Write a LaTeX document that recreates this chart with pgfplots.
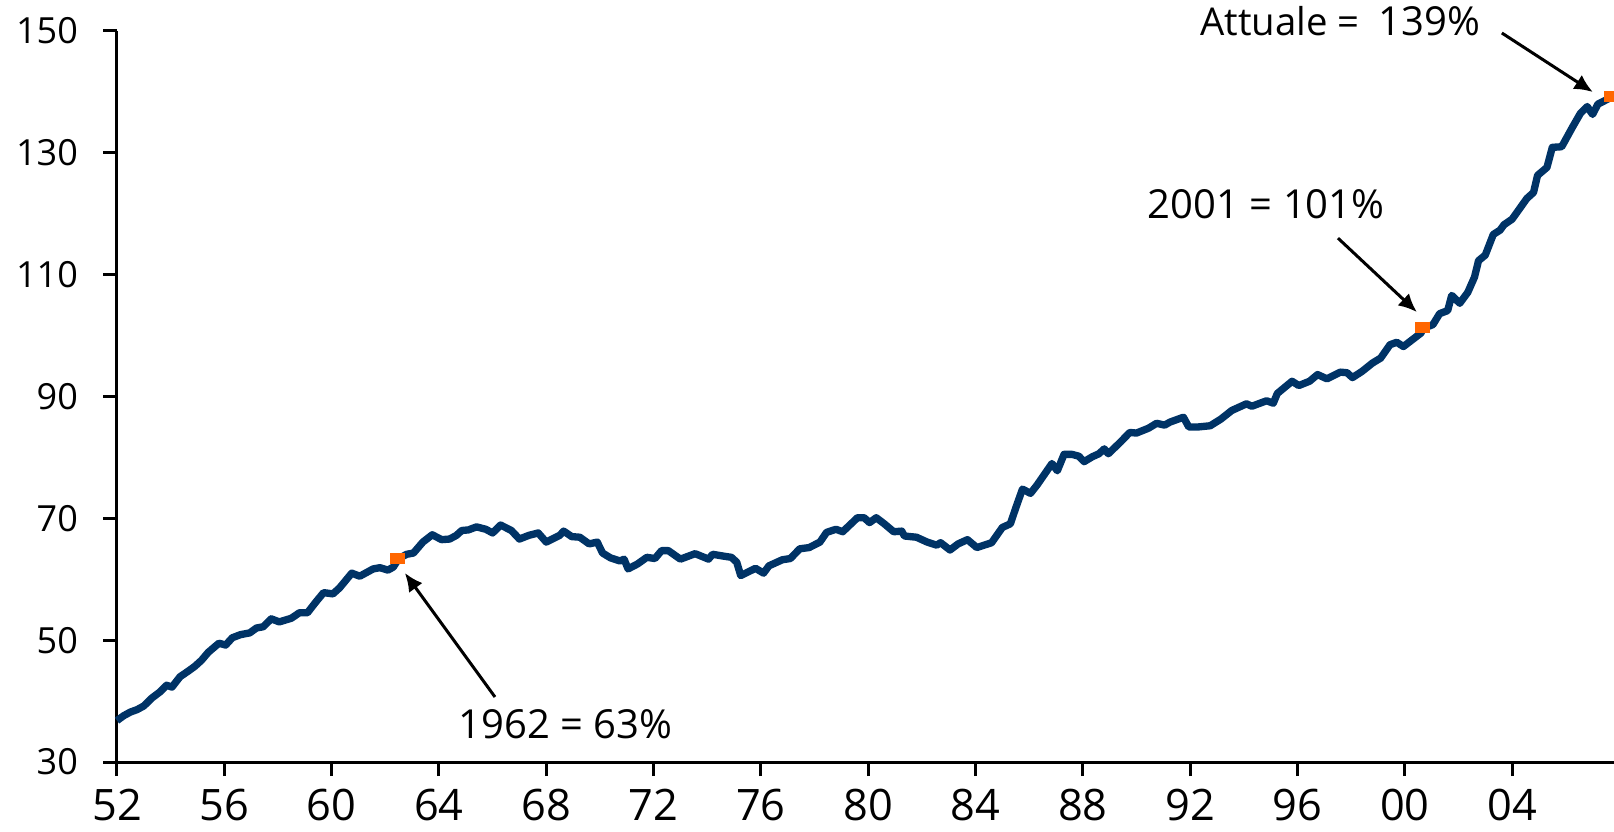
\documentclass[border=0pt]{standalone}
\usepackage{fontspec}
\setmainfont{Open Sans}
\usepackage{pgfplots}
\pgfplotsset{compat=1.18}
\usetikzlibrary{arrows.meta}
\definecolor{navy}{RGB}{0,51,102}
\definecolor{orng}{RGB}{255,102,0}
\pgfdeclareplotmark{orect}{\pgfpathrectangle{\pgfpoint{-2.2pt}{-1.6pt}}{\pgfpoint{4.4pt}{3.2pt}}\pgfusepathqfill}
\pgfplotstableread{
year val
1952.0 36.8
1952.25 37.6
1952.5 38.2
1952.75 38.6
1953.0 39.2
1953.3 40.5
1953.6 41.5
1953.85 42.6
1954.05 42.3
1954.35 44.0
1954.65 44.9
1954.9 45.7
1955.15 46.7
1955.4 48.0
1955.8 49.5
1956.05 49.2
1956.3 50.4
1956.6 50.9
1956.95 51.2
1957.2 52.0
1957.45 52.2
1957.75 53.5
1958.05 53.0
1958.5 53.6
1958.8 54.5
1959.1 54.5
1959.4 56.2
1959.7 57.8
1960.05 57.6
1960.3 58.6
1960.75 61.0
1961.05 60.5
1961.55 61.7
1961.8 61.9
1962.1 61.5
1962.3 62.0
1962.5 63.4
1962.8 64.1
1963.05 64.3
1963.4 66.1
1963.75 67.3
1964.1 66.5
1964.4 66.6
1964.65 67.2
1964.85 68.0
1965.1 68.1
1965.4 68.6
1965.75 68.2
1966.0 67.6
1966.3 68.9
1966.7 68.0
1967.0 66.6
1967.35 67.2
1967.7 67.6
1968.0 66.1
1968.5 67.2
1968.65 67.9
1968.95 67.0
1969.25 66.9
1969.6 65.8
1969.9 66.1
1970.1 64.3
1970.4 63.5
1970.75 63.0
1970.9 63.3
1971.05 61.7
1971.4 62.5
1971.75 63.6
1972.05 63.4
1972.3 64.7
1972.55 64.7
1973.0 63.3
1973.55 64.2
1974.05 63.3
1974.2 64.1
1974.6 63.8
1974.9 63.6
1975.1 62.8
1975.25 60.6
1975.8 61.8
1976.1 61.0
1976.3 62.2
1976.8 63.2
1977.1 63.4
1977.45 65.0
1977.8 65.2
1978.2 66.1
1978.45 67.7
1978.8 68.2
1979.05 67.8
1979.6 70.1
1979.85 70.1
1980.05 69.3
1980.3 70.1
1980.6 69.1
1980.95 67.8
1981.25 67.9
1981.35 67.1
1981.8 66.9
1982.2 66.1
1982.55 65.6
1982.7 66.0
1983.05 64.8
1983.35 65.8
1983.7 66.5
1984.05 65.2
1984.6 66.0
1985.0 68.5
1985.3 69.1
1985.5 71.7
1985.75 74.8
1986.05 74.1
1986.3 75.5
1986.85 79.0
1987.05 77.8
1987.3 80.5
1987.6 80.5
1987.85 80.2
1988.05 79.3
1988.35 80.1
1988.6 80.6
1988.8 81.4
1988.95 80.6
1989.4 82.5
1989.75 84.1
1990.0 84.0
1990.45 84.8
1990.75 85.6
1991.05 85.3
1991.25 85.8
1991.75 86.6
1991.95 85.0
1992.3 85.0
1992.75 85.2
1993.15 86.3
1993.55 87.7
1994.1 88.8
1994.3 88.4
1994.85 89.3
1995.1 88.9
1995.25 90.5
1995.8 92.5
1996.05 91.8
1996.45 92.5
1996.75 93.6
1997.1 92.9
1997.6 94.0
1997.85 93.9
1998.05 93.1
1998.4 94.1
1998.8 95.5
1999.1 96.3
1999.45 98.5
1999.7 98.9
1999.95 98.2
2000.6 100.4
2000.7 101.2
2001.05 101.8
2001.3 103.6
2001.6 104.1
2001.75 106.6
2002.05 105.3
2002.35 107.1
2002.6 109.6
2002.75 112.3
2003.0 113.2
2003.3 116.6
2003.55 117.3
2003.7 118.2
2004.0 119.1
2004.55 122.5
2004.8 123.5
2004.95 126.3
2005.3 127.6
2005.5 130.9
2005.85 131.0
2006.25 134.2
2006.55 136.5
2006.8 137.6
2007.0 136.3
2007.2 138.0
2007.65 139.0
}\debt
\pgfplotstableread{
year val
1962.45 63.4
2000.65 101.3
2007.7 139.2
}\pts
\begin{document}
\begin{tikzpicture}
\begin{axis}[
  at={(0,0)}, anchor=south west,
  scale only axis, width=449.1pt, height=219.3pt,
  xmin=1952, xmax=2007.8, ymin=30, ymax=150,
  axis lines=left,
  axis line style={line width=0.9pt, -},
  xtick={1952,1956,...,2004},
  xticklabels={52,56,60,64,68,72,76,80,84,88,92,96,00,04},
  ytick={30,50,...,150},
  tick style={line width=0.9pt, black},
  major tick length=4.2pt,
  tick align=outside,
  /pgf/number format/assume math mode=true,
  yticklabel style={font=\fontsize{10.8}{12}\selectfont, xshift=-4pt},
  xticklabel style={font=\fontsize{13}{15}\selectfont, yshift=-0.3pt},
  clip=false,
]
\addplot[navy, line width=2.2pt, line join=round, no markers] table[x=year,y=val]{\debt};
\addplot[only marks, mark=orect, orng] table[x=year,y=val]{\pts};
\draw[line width=0.9pt, -{Latex[length=5.5pt,width=5pt]}] (axis cs:1966.09,40.67) -- (axis cs:1962.73,61.03);
\draw[line width=0.9pt, -{Latex[length=5.5pt,width=5pt]}] (axis cs:1997.51,116.0) -- (axis cs:2000.45,103.87);
\draw[line width=0.9pt, -{Latex[length=5.5pt,width=5pt]}] (axis cs:2003.62,149.67) -- (axis cs:2007.01,139.98);
\node[anchor=base west, inner sep=0pt, font=\fontsize{12}{14}\selectfont] at (axis cs:1964.7,33.9) {1962 = 63\%};
\node[anchor=base west, inner sep=0pt, font=\fontsize{12}{14}\selectfont] at (axis cs:1990.4,119.3) {2001 = 101\%};
\node[anchor=base west, inner sep=0pt, font=\fontsize{11.5}{14}\selectfont] at (axis cs:1992.36,149.3) {Attuale =};
\node[anchor=base west, inner sep=0pt, font=\fontsize{12}{14}\selectfont] at (axis cs:1999.0,149.3) {139\%};
\end{axis}
\pgfresetboundingbox
\useasboundingbox (-35.1pt,-20.7pt) rectangle (449.1pt,228.6pt);
\end{tikzpicture}
\end{document}
